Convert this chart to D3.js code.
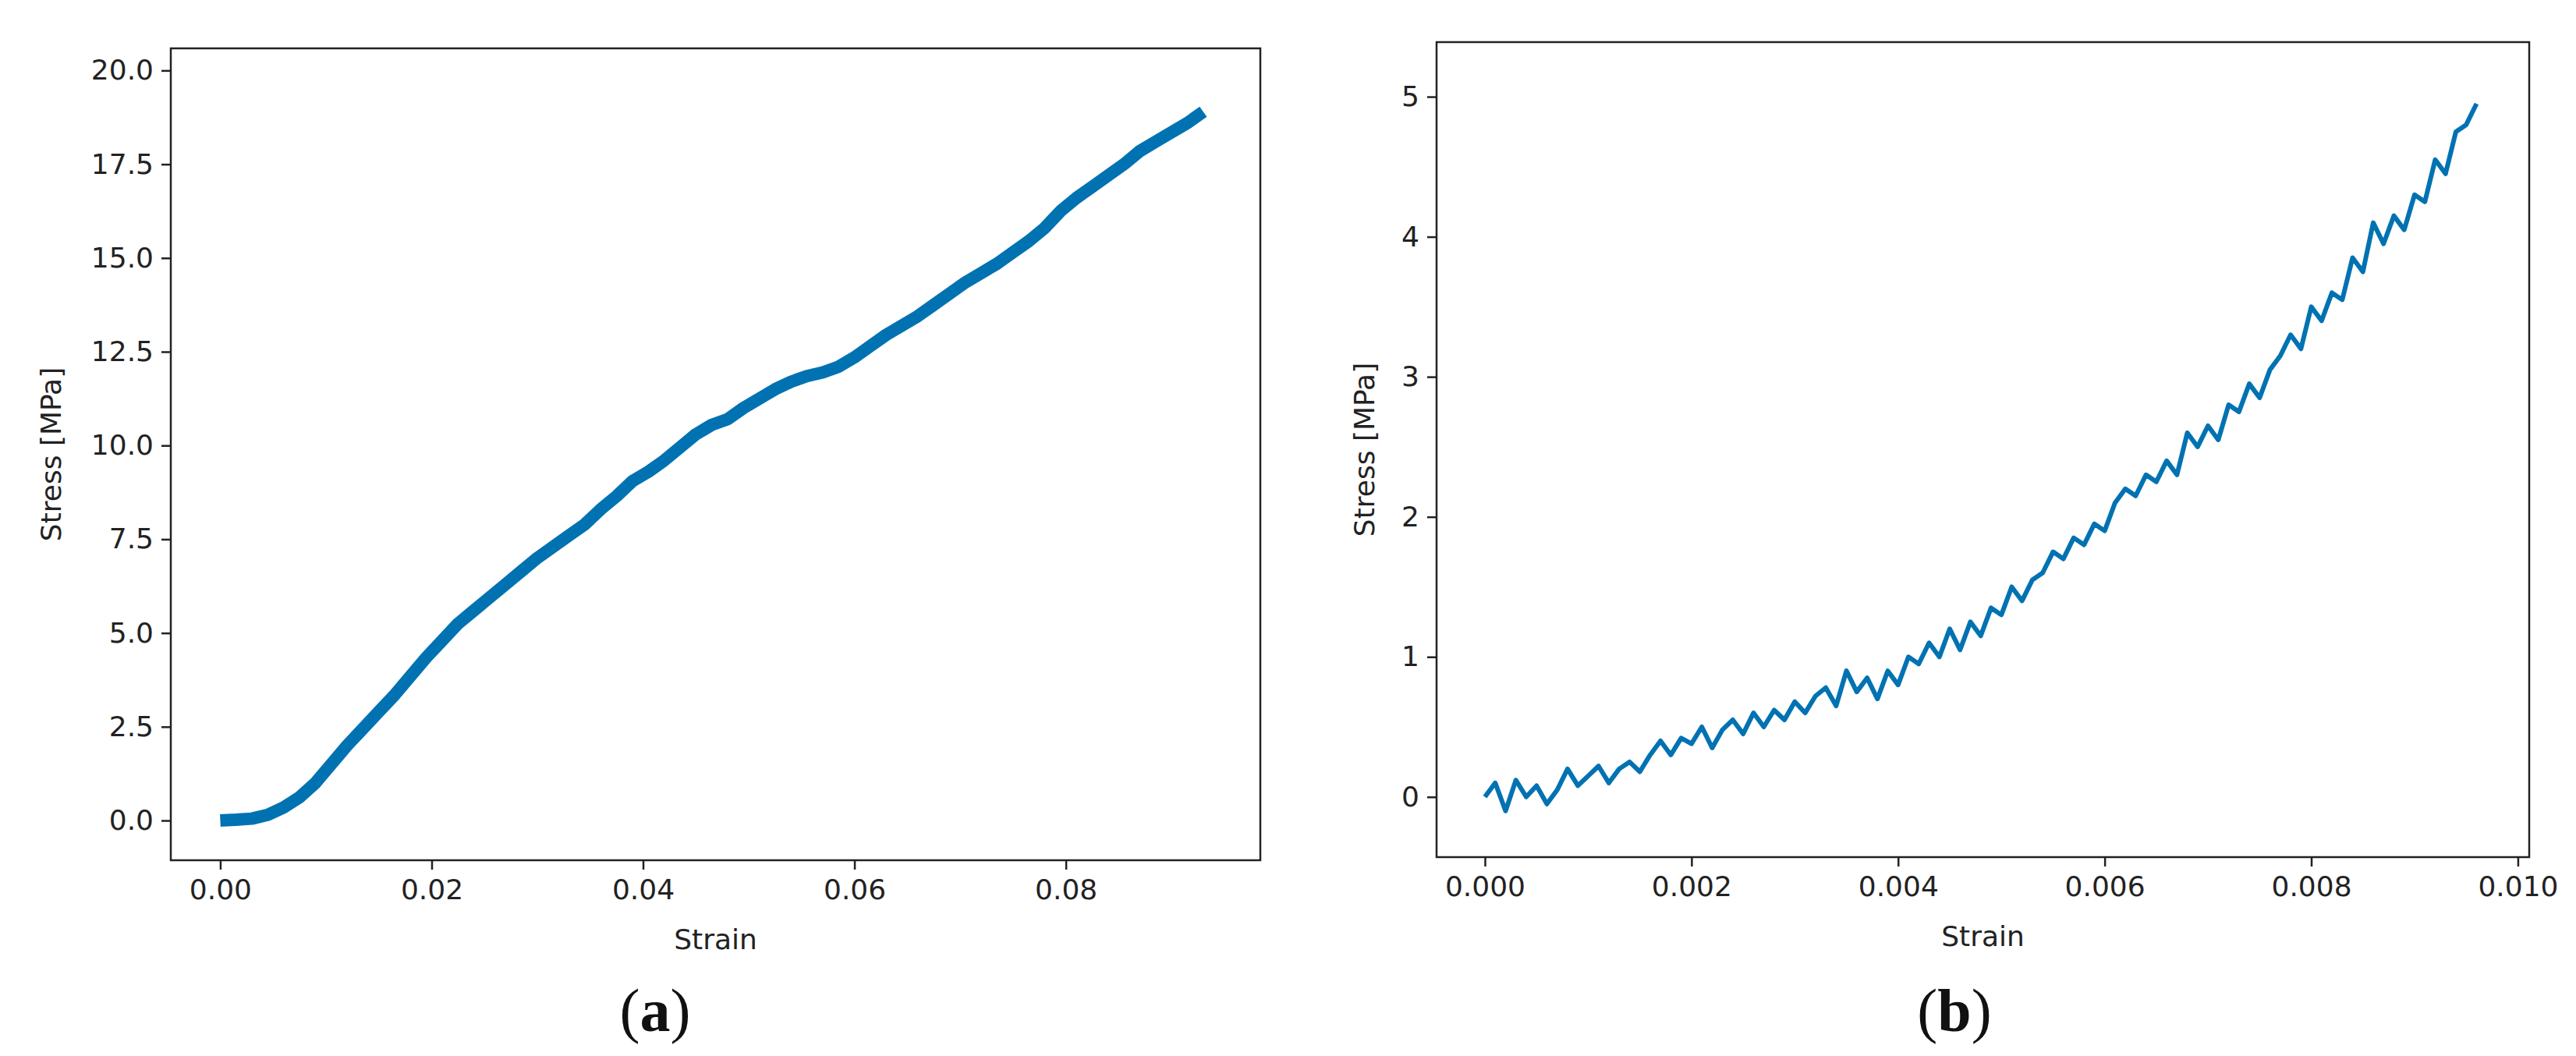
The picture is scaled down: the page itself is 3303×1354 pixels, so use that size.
<!DOCTYPE html>
<html><head><meta charset="utf-8">
<script src="https://cdn.jsdelivr.net/npm/d3@7"></script>
<style>body{margin:0;background:#fff}text{font-family:"DejaVu Sans",sans-serif}</style>
</head><body><svg id="c" width="3303" height="1354"></svg>
<script>
const stressA=[0.0,0.02,0.05,0.15,0.35,0.62,1.0,1.5,2.0,2.45,2.9,3.35,3.85,4.35,4.8,5.25,5.6,5.95,6.3,6.65,7.0,7.3,7.6,7.9,8.3,8.65,9.05,9.3,9.6,9.95,10.3,10.55,10.7,11.0,11.25,11.5,11.7,11.85,11.95,12.1,12.35,12.65,12.95,13.2,13.45,13.75,14.05,14.35,14.6,14.85,15.15,15.45,15.8,16.25,16.6,16.9,17.2,17.5,17.85,18.1,18.35,18.6,18.9];
const stepA=0.0015;
const stressB=[0.0,0.1,-0.1,0.12,0.0,0.08,-0.05,0.05,0.2,0.08,0.15,0.22,0.1,0.2,0.25,0.18,0.3,0.4,0.3,0.42,0.38,0.5,0.35,0.48,0.55,0.45,0.6,0.5,0.62,0.55,0.68,0.6,0.72,0.78,0.65,0.9,0.75,0.85,0.7,0.9,0.8,1.0,0.95,1.1,1.0,1.2,1.05,1.25,1.15,1.35,1.3,1.5,1.4,1.55,1.6,1.75,1.7,1.85,1.8,1.95,1.9,2.1,2.2,2.15,2.3,2.25,2.4,2.3,2.6,2.5,2.65,2.55,2.8,2.75,2.95,2.85,3.05,3.15,3.3,3.2,3.5,3.4,3.6,3.55,3.85,3.75,4.1,3.95,4.15,4.05,4.3,4.25,4.55,4.45,4.75,4.8,4.95];
const stepB=0.0001;
const ticksAx=[0,0.02,0.04,0.06,0.08], ticksAy=[0,2.5,5,7.5,10,12.5,15,17.5,20];
const ticksBx=[0,0.002,0.004,0.006,0.008,0.010], ticksBy=[0,1,2,3,4,5];
const svg=d3.select("#c");
const blue="#0072b2";
function panel(o){
  const x=d3.scaleLinear().domain(o.xd).range([o.l,o.r]);
  const y=d3.scaleLinear().domain(o.yd).range([o.b,o.t]);
  const g=svg.append("g");
  g.append("path").datum(o.data).attr("fill","none").attr("stroke",blue).attr("stroke-width",o.sw).attr("stroke-linejoin","round")
   .attr("d",d3.line().x((d,i)=>x(i*o.step)).y(d=>y(d)));
  g.append("rect").attr("x",o.l).attr("y",o.t).attr("width",o.r-o.l).attr("height",o.b-o.t).attr("fill","none").attr("stroke","#222").attr("stroke-width",2.5);
  const ax=g.append("g").attr("transform",`translate(0,${o.b})`).call(d3.axisBottom(x).tickValues(o.tx).tickFormat(o.fx).tickSize(12).tickPadding(12));
  const ay=g.append("g").attr("transform",`translate(${o.l},0)`).call(d3.axisLeft(y).tickValues(o.ty).tickFormat(o.fy).tickSize(12).tickPadding(10));
  [ax,ay].forEach(a=>{a.select(".domain").remove();a.selectAll("line").attr("stroke","#222").attr("stroke-width",2.5);a.selectAll("text").attr("font-size",36).attr("fill","#222").style("font-family","DejaVu Sans");});
  g.append("text").attr("x",(o.l+o.r)/2).attr("y",o.b+114).attr("text-anchor","middle").attr("font-size",36).attr("fill","#222").text("Strain");
  g.append("text").attr("transform",`translate(${o.yl},${(o.t+o.b)/2}) rotate(-90)`).attr("text-anchor","middle").attr("font-size",36).attr("fill","#222").text("Stress [MPa]");
  const lab=g.append("text").attr("x",o.lx).attr("y",1322).attr("text-anchor","middle").attr("font-size",78).style("font-family","Liberation Serif").attr("fill","#111");
  lab.append("tspan").text("(");lab.append("tspan").attr("font-weight","bold").text(o.letter);lab.append("tspan").text(")");
}
panel({l:219,r:1616,t:62,b:1103,xd:[-0.00468,0.0984],yd:[-1.06,20.59],data:stressA,step:stepA,sw:16,tx:ticksAx,ty:ticksAy,fx:d3.format(".2f"),fy:d3.format(".1f"),yl:78,lx:840,letter:"a"});
panel({l:1842,r:3243,t:54,b:1099,xd:[-0.000468,0.01011],yd:[-0.43,5.39],data:stressB,step:stepB,sw:6,tx:ticksBx,ty:ticksBy,fx:d3.format(".3f"),fy:d3.format("d"),yl:1762,lx:2506,letter:"b"});
</script></body></html>
